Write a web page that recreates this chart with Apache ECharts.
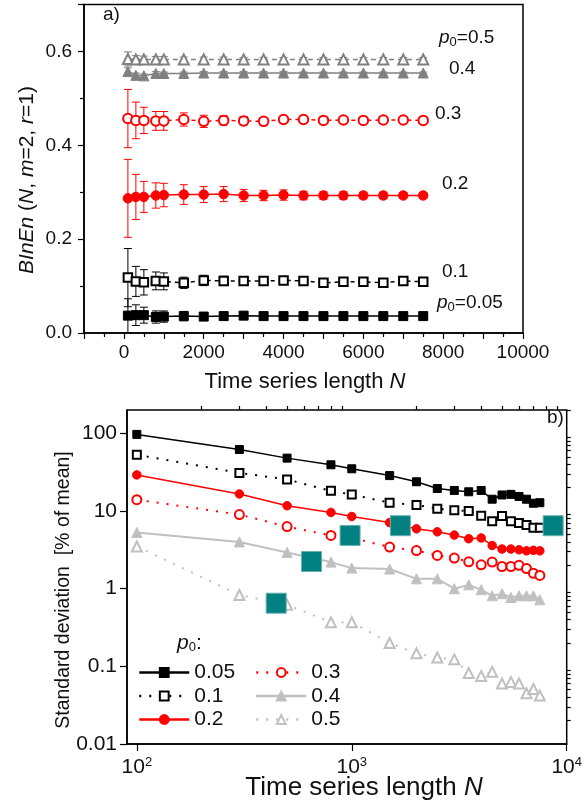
<!DOCTYPE html>
<html><head><meta charset="utf-8">
<script src="https://cdn.jsdelivr.net/npm/echarts@6/dist/echarts.min.js"></script>
<style>html,body{margin:0;padding:0;background:#fff}#c{width:585px;height:805px}</style>
</head><body><div id="c"></div>
<script>
// ---------- data ----------
const N = [100,300,500,800,1000,1500,2000,2500,3000,3500,4000,4500,5000,5500,6000,6500,7000,7500];

// panel a) BInEn mean values and error bars (SD)
const m05 = [0.037,0.038,0.038,0.034,0.035,0.036,0.035,0.036,0.037,0.036,0.036,0.036,0.036,0.036,0.036,0.036,0.036,0.036];
const e05 = [0.036,0.022,0.017,0.013,0.012,0.010,0.008,0.008,0.007,0.006,0.006,0.005,0.005,0.005,0.005,0.004,0.004,0.004];
const m10 = [0.118,0.110,0.108,0.111,0.110,0.107,0.112,0.111,0.111,0.111,0.112,0.111,0.107,0.109,0.109,0.107,0.111,0.109];
const e10 = [0.062,0.032,0.027,0.019,0.018,0.012,0.011,0.010,0.009,0.008,0.007,0.006,0.006,0.005,0.005,0.005,0.005,0.005];
const m20 = [0.287,0.290,0.290,0.293,0.294,0.295,0.295,0.296,0.293,0.293,0.294,0.293,0.293,0.293,0.293,0.293,0.293,0.293];
const e20 = [0.083,0.048,0.033,0.027,0.025,0.021,0.017,0.016,0.013,0.011,0.011,0.009,0.008,0.008,0.007,0.007,0.006,0.006];
const m30 = [0.457,0.453,0.453,0.452,0.452,0.455,0.451,0.453,0.452,0.451,0.455,0.455,0.453,0.454,0.453,0.454,0.454,0.453];
const e30 = [0.062,0.039,0.028,0.020,0.020,0.014,0.013,0.010,0.009,0.008,0.007,0.007,0.006,0.006,0.005,0.005,0.005,0.005];
const m40 = [0.557,0.549,0.548,0.553,0.553,0.553,0.554,0.554,0.554,0.554,0.554,0.554,0.554,0.554,0.554,0.554,0.554,0.554];
const e40 = [0.008,0.005,0.004,0.004,0.003,0.003,0.003,0.003,0.003,0.003,0.003,0.002,0.002,0.002,0.002,0.002,0.002,0.002];
const m50 = [0.584,0.583,0.583,0.583,0.583,0.583,0.583,0.583,0.583,0.583,0.583,0.583,0.583,0.583,0.583,0.583,0.583,0.583];
const e50 = [0.015,0.008,0.007,0.006,0.006,0.005,0.005,0.005,0.004,0.004,0.004,0.004,0.004,0.004,0.004,0.004,0.004,0.004];

// panel b) standard deviation [% of mean]
const sd05 = [97,62,48,39.4,35,28.6,23.8,19.5,18.4,17.7,18.4,14.2,16.1,16.4,15.4,14.2,12.6,12.8];
const sd10 = [53,31,25.5,18.2,16.3,12.8,12.0,10.7,10.2,10.0,8.7,7.4,8.6,7.4,7.0,6.6,6.1,6.1];
const sd20 = [29.2,16.6,11.7,9.6,8.5,7.1,5.9,5.4,4.9,4.4,4.5,3.6,3.24,3.24,3.17,3.07,3.12,3.07];
const sd30 = [14.0,9.0,6.3,4.85,4.5,3.44,3.1,2.68,2.48,2.22,2.03,2.2,1.93,1.93,2.0,1.82,1.58,1.48];
const sd40 = [5.3,4.0,2.93,2.2,1.84,1.79,1.34,1.34,1.0,1.12,0.97,0.81,0.86,0.77,0.81,0.81,0.81,0.72];
const sd50 = [3.5,0.83,0.62,0.37,0.37,0.20,0.147,0.13,0.123,0.082,0.075,0.085,0.060,0.063,0.060,0.045,0.051,0.042];

// teal highlight squares in panel b)
const tealN = [445, 650, 982, 1683, 8650];
const tealV = [0.65, 2.24, 4.85, 6.47, 6.47];

// tick values / labels
const topXLabels = [0, 2000, 4000, 6000, 8000, 10000];
const botXMajor = [100, 1000, 10000];
const botXMinor = [200,300,400,500,600,700,800,900,2000,3000,4000,5000,6000,7000,8000,9000];
const botYMajor = [0.01, 0.1, 1, 10, 100];
const botYMinor = [0.02,0.03,0.04,0.05,0.06,0.07,0.08,0.09,0.2,0.3,0.4,0.5,0.6,0.7,0.8,0.9,2,3,4,5,6,7,8,9,20,30,40,50,60,70,80,90,200];

// ---------- chart ----------
const FONT = 'Liberation Sans, Arial, sans-serif';
const TXT = '#111';
const chart = echarts.init(document.getElementById('c'), null, {renderer: 'canvas'});

const pair = (ys) => N.map((n, i) => [n, ys[i]]);
const errs = (ms, es) => N.map((n, i) => [n, ms[i] - es[i], ms[i] + es[i]]);

function errSeries(ms, es, color) {
  return {
    type: 'custom', xAxisIndex: 0, yAxisIndex: 0, z: 1, silent: true,
    data: errs(ms, es),
    encode: {x: 0, y: [1, 2]},
    renderItem: function (params, api) {
      const x = api.value(0);
      const lo = api.coord([x, api.value(1)]);
      const hi = api.coord([x, api.value(2)]);
      const w = 4;
      const st = {stroke: color, lineWidth: 1};
      return {type: 'group', children: [
        {type: 'line', shape: {x1: lo[0], y1: lo[1], x2: hi[0], y2: hi[1]}, style: st},
        {type: 'line', shape: {x1: hi[0] - w, y1: hi[1], x2: hi[0] + w, y2: hi[1]}, style: st},
        {type: 'line', shape: {x1: lo[0] - w, y1: lo[1], x2: lo[0] + w, y2: lo[1]}, style: st}
      ]};
    }
  };
}

function topLine(name, ys, color, symbol, size, ltype) {
  return {
    name: name, type: 'line', xAxisIndex: 0, yAxisIndex: 0, z: 3,
    data: pair(ys), symbol: symbol, symbolSize: size, showAllSymbol: true,
    lineStyle: {color: color, width: 1.5, type: ltype},
    itemStyle: {color: color, borderColor: color, borderWidth: 1}
  };
}
function botLine(name, ys, color, symbol, size, ltype, lw) {
  return {
    name: name, type: 'line', xAxisIndex: 1, yAxisIndex: 1, z: 3,
    data: pair(ys), symbol: symbol, symbolSize: size, showAllSymbol: true,
    lineStyle: {color: color, width: lw, type: ltype},
    itemStyle: {color: color, borderColor: color, borderWidth: 1}
  };
}

const axLine = {show: true, onZero: false, lineStyle: {color: '#000', width: 1.5}};
const lblStyle = (fs) => ({fontSize: fs, color: TXT, fontFamily: FONT});
const sub = {fontSize: 13, fontFamily: FONT, color: TXT, padding: [9, 0, 0, 0]};
const sup = {fontSize: 13, fontFamily: FONT, color: TXT, padding: [0, 0, 10, 0]};
const ital = (fs) => ({fontSize: fs, fontFamily: FONT, color: TXT, fontStyle: 'italic'});
const norm = (fs) => ({fontSize: fs, fontFamily: FONT, color: TXT});

function txt(x, y, text, fs, extra) {
  return Object.assign({
    type: 'text', x: x, y: y, z: 50,
    style: {text: text, fontSize: fs, fontFamily: FONT, fill: TXT, align: 'left', verticalAlign: 'middle',
      rich: {i: ital(fs), n: norm(fs), s: sub}}
  }, extra || {});
}

const option = {
  animation: false,
  backgroundColor: '#fff',
  grid: [
    {left: 84, top: 4.5, width: 439, height: 328.5, show: true, borderColor: '#000', borderWidth: 1.5, backgroundColor: 'transparent'},
    {left: 127, top: 410, width: 446, height: 334, show: true, borderColor: '#000', borderWidth: 1.5, backgroundColor: 'transparent'}
  ],
  xAxis: [
    {gridIndex: 0, type: 'value', min: -1000, max: 10000, interval: 1000,
      axisLine: axLine, splitLine: {show: false},
      axisTick: {show: true, length: 6, lineStyle: {color: '#000', width: 1.2}},
      minorTick: {show: true, splitNumber: 2, length: 4, lineStyle: {color: '#000', width: 1.2}},
      axisLabel: Object.assign({margin: 10, formatter: v => (topXLabels.indexOf(v) >= 0 ? String(v) : '')}, lblStyle(19))},
    {gridIndex: 1, type: 'log', logBase: 10, min: 90, max: 10000,
      axisLine: axLine, splitLine: {show: false}, minorTick: {show: false},
      axisTick: {show: true, length: 7, customValues: botXMajor, lineStyle: {color: '#000', width: 1.2}},
      axisLabel: Object.assign({margin: 12, customValues: botXMajor,
        formatter: v => '{b|10}{p|' + Math.round(Math.log10(v)) + '}',
        rich: {b: norm(21), p: sup}}, lblStyle(21))},
    {gridIndex: 1, type: 'log', logBase: 10, min: 90, max: 10000,
      axisLine: {show: false, onZero: false}, splitLine: {show: false}, axisLabel: {show: false},
      axisTick: {show: true, length: 4, customValues: botXMinor, lineStyle: {color: '#000', width: 1.2}}}
  ],
  yAxis: [
    {gridIndex: 0, type: 'value', min: 0, max: 0.7, interval: 0.2,
      axisLine: axLine, splitLine: {show: false},
      axisTick: {show: true, length: 6, lineStyle: {color: '#000', width: 1.2}},
      minorTick: {show: true, splitNumber: 2, length: 4, lineStyle: {color: '#000', width: 1.2}},
      axisLabel: Object.assign({margin: 12, showMaxLabel: false, formatter: v => (v > 0.65 ? '' : v.toFixed(1))}, lblStyle(19))},
    {gridIndex: 1, type: 'log', logBase: 10, min: 0.01, max: 200,
      axisLine: axLine, splitLine: {show: false}, minorTick: {show: false},
      axisTick: {show: true, length: 7, customValues: botYMajor, lineStyle: {color: '#000', width: 1.2}},
      axisLabel: Object.assign({margin: 10, customValues: botYMajor, formatter: v => String(v)}, lblStyle(21))},
    {gridIndex: 1, type: 'log', logBase: 10, min: 0.01, max: 200,
      axisLine: {show: false, onZero: false}, splitLine: {show: false}, axisLabel: {show: false},
      axisTick: {show: true, length: 4, customValues: botYMinor, lineStyle: {color: '#000', width: 1.2}}}
  ],
  legend: [
    {data: ['0.05', '0.1', '0.2'], left: 133, top: 657, orient: 'vertical', itemWidth: 50, itemHeight: 11, itemGap: 2.5,
      selectedMode: false, textStyle: {fontSize: 21, color: TXT, fontFamily: FONT}, lineStyle: {width: 2.5}},
    {data: ['0.3', '0.4', '0.5'], left: 250, top: 657, orient: 'vertical', itemWidth: 50, itemHeight: 11, itemGap: 2.5,
      selectedMode: false, textStyle: {fontSize: 21, color: TXT, fontFamily: FONT}, lineStyle: {width: 2.5}}
  ],
  series: [
    errSeries(m05, e05, '#000'),
    errSeries(m10, e10, '#000'),
    errSeries(m20, e20, '#ff0000'),
    errSeries(m30, e30, '#ff0000'),
    errSeries(m40, e40, '#808080'),
    errSeries(m50, e50, '#808080'),
    topLine('a0.05', m05, '#000', 'rect', 9, 'solid'),
    topLine('a0.1', m10, '#000', 'emptyRect', 8.5, [4, 4]),
    topLine('a0.2', m20, '#ff0000', 'circle', 9.5, 'solid'),
    topLine('a0.3', m30, '#ff0000', 'emptyCircle', 9.5, [4, 4]),
    topLine('a0.4', m40, '#808080', 'triangle', 10, 'solid'),
    topLine('a0.5', m50, '#808080', 'emptyTriangle', 10, [5, 4]),
    botLine('0.05', sd05, '#000', 'rect', 8, 'solid', 1.5),
    botLine('0.1', sd10, '#000', 'emptyRect', 8, [2, 8], 2),
    botLine('0.2', sd20, '#ff0000', 'circle', 8.5, 'solid', 1.5),
    botLine('0.3', sd30, '#ff0000', 'emptyCircle', 9, [2, 8], 2),
    botLine('0.4', sd40, '#c0c0c0', 'triangle', 10, 'solid', 2),
    botLine('0.5', sd50, '#c0c0c0', 'emptyTriangle', 10, [2, 8], 2),
    {name: 'teal', type: 'scatter', xAxisIndex: 1, yAxisIndex: 1, z: 10,
      data: tealN.map((n, i) => [n, tealV[i]]), symbol: 'rect', symbolSize: 20,
      itemStyle: {color: '#008080', borderColor: '#6ab0b0', borderWidth: 1, opacity: 1}}
  ],
  graphic: [
    txt(103, 15, 'a)', 19),
    txt(547, 418, 'b)', 19),
    txt(439, 38, '{i|p}{s|0}{n|=0.5}', 19),
    txt(449, 69, '0.4', 19),
    txt(435, 114, '0.3', 19),
    txt(442, 184, '0.2', 19),
    txt(442, 272, '0.1', 19),
    txt(437, 303, '{i|p}{s|0}{n|=0.05}', 19),
    txt(177, 643, '{i|p}{s|0}{n|:}', 21),
    {type: 'text', x: 27, y: 180, rotation: Math.PI / 2, z: 50,
      style: {text: '{i|BInEn} {n|(}{i|N}{n|, }{i|m}{n|=2, }{i|r}{n|=1)}', align: 'center', verticalAlign: 'middle',
        fontSize: 21, fontFamily: FONT, fill: TXT, rich: {i: ital(21), n: norm(21)}}},
    {type: 'text', x: 305, y: 382, z: 50,
      style: {text: '{n|Time series length }{i|N}', align: 'center', verticalAlign: 'middle',
        fontSize: 22, fontFamily: FONT, fill: TXT, rich: {i: ital(22), n: norm(22)}}},
    {type: 'text', x: 364, y: 788, z: 50,
      style: {text: '{n|Time series length }{i|N}', align: 'center', verticalAlign: 'middle',
        fontSize: 26, fontFamily: FONT, fill: TXT, rich: {i: ital(26), n: norm(26)}}},
    {type: 'text', x: 64, y: 590, rotation: Math.PI / 2, z: 50,
      style: {text: 'Standard deviation  [% of mean]', align: 'center', verticalAlign: 'middle',
        fontSize: 19.5, fontFamily: FONT, fill: TXT}}
  ]
};
chart.setOption(option);
</script>
</body></html>
